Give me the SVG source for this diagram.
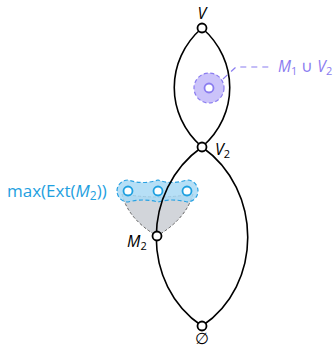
<svg xmlns="http://www.w3.org/2000/svg" width="336" height="348" viewBox="0 0 336 348">
<style>
.edge{fill:none;stroke:#000;stroke-width:1.6}
.node{fill:#fff;stroke:#000;stroke-width:1.8}
.lbl{font-family:"Open Sans","Noto Sans",sans-serif;font-size:16px;fill:#000}
.it{font-style:italic}
.blue{fill:#1ea0e0;font-size:17px}
.purple{fill:#8a7cf0;font-size:15.5px}
</style>
<rect width="336" height="348" fill="#fff"/>
<g id="region-ext">
<path d="M122,194 Q128,219 157,236 Q186,219 193,194 Q158,200 122,194 Z" fill="#d2d5da" stroke="#555" stroke-width="0.9" stroke-dasharray="3 2"/>
<path d="M117,191 A11,11 0 0 1 128,180 Q143,185 158,180 Q172,185 187,180 A11,11 0 0 1 198,191 A11,11 0 0 1 187,202 Q172,198 158,202 Q143,198 128,202 A11,11 0 0 1 117,191 Z" fill="#a9d9f4" fill-opacity="0.85" stroke="#2aa2e2" stroke-width="1.2" stroke-dasharray="4 2.5"/>
</g>
<g id="region-m1v2">
<circle cx="209" cy="88" r="15" fill="#cbc3fa" stroke="#8a7cf0" stroke-width="1.2" stroke-dasharray="4 2.5"/>
</g>
<g id="connectors">
<path class="edge" d="M202,28 C165,60 165,115 202,147"/>
<path class="edge" d="M202,28 C239,60 239,115 202,147"/>
<path class="edge" d="M202,147 C141,190 141,285 202,326"/>
<path class="edge" d="M202,147 C263,190 263,285 202,326"/>
<path d="M223,79 L236,67 L272,67" fill="none" stroke="#8a7cf0" stroke-width="1.2" stroke-dasharray="6 5"/>
</g>
<g id="node-V">
<circle class="node" cx="202" cy="28" r="4.5"/>
<text class="lbl it" x="202" y="19" text-anchor="middle">V</text>
</g>
<g id="node-V2">
<circle class="node" cx="202" cy="147" r="4.5"/>
<text class="lbl it" x="215" y="155">V<tspan font-size="11" dy="3" font-style="normal">2</tspan></text>
</g>
<g id="node-M2">
<circle class="node" cx="157" cy="236" r="4.5"/>
<text class="lbl it" x="127" y="247">M<tspan font-size="11" dy="3" font-style="normal">2</tspan></text>
</g>
<g id="node-empty">
<circle class="node" cx="202" cy="326" r="4.5"/>
<text class="lbl" x="202" y="344" text-anchor="middle">∅</text>
</g>
<g id="node-M1V2">
<circle cx="209" cy="88" r="4.5" fill="#fff" stroke="#8a7cf0" stroke-width="1.8"/>
<text class="lbl purple" x="278" y="72"><tspan class="it">M</tspan><tspan font-size="11" dy="3">1</tspan><tspan dy="-3"> ∪ </tspan><tspan class="it">V</tspan><tspan font-size="11" dy="3">2</tspan></text>
</g>
<g id="node-ext">
<circle cx="128" cy="191" r="4.5" fill="#fff" stroke="#1ea0e0" stroke-width="1.8"/>
<circle cx="158" cy="191" r="4.5" fill="#fff" stroke="#1ea0e0" stroke-width="1.8"/>
<circle cx="187" cy="191" r="4.5" fill="#fff" stroke="#1ea0e0" stroke-width="1.8"/>
<text class="lbl blue" x="7" y="197">max(Ext(<tspan class="it">M</tspan><tspan font-size="12" dy="3">2</tspan><tspan dy="-3">))</tspan></text>
</g>
</svg>
